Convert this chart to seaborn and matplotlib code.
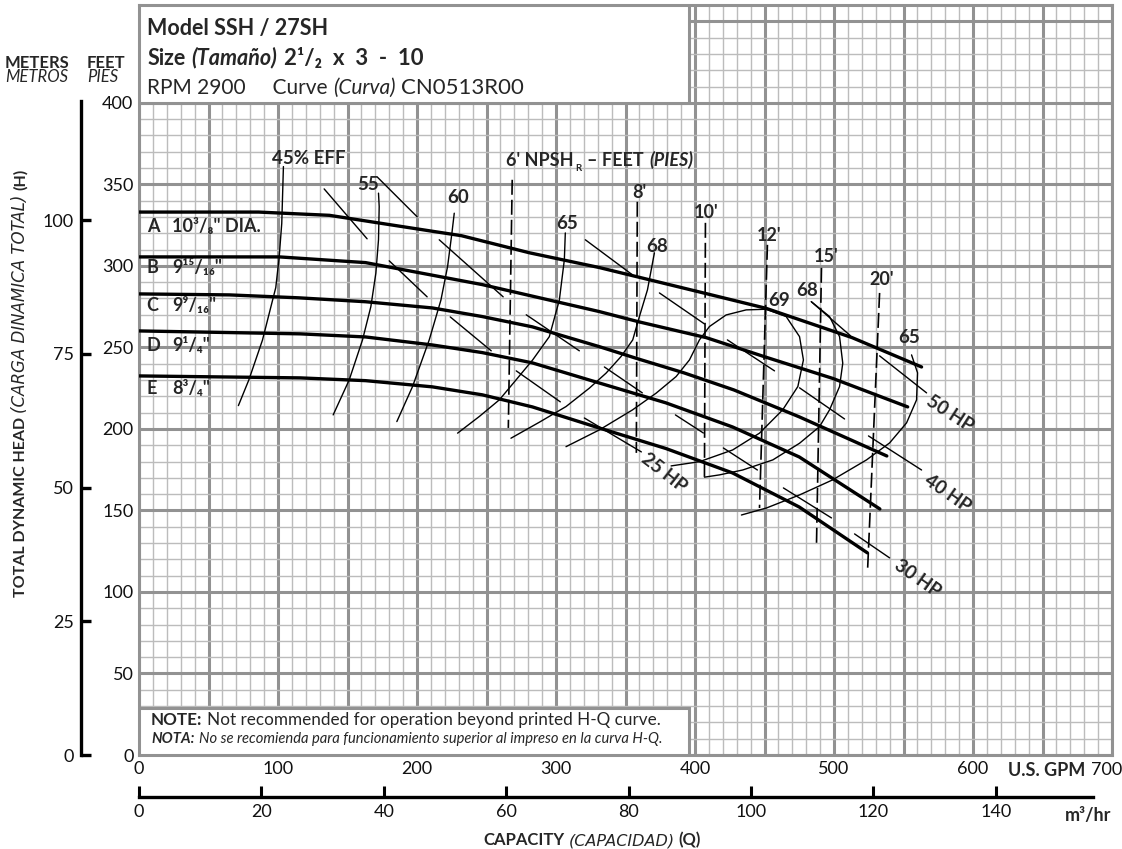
import numpy as np
import pandas as pd
import matplotlib
matplotlib.use('Agg')
import matplotlib.pyplot as plt
import seaborn as sns
from matplotlib.patches import Rectangle

sns.set_theme(style="white")
plt.rcParams['font.family'] = ['Lato', 'DejaVu Sans']

# ---- impeller H-Q curves (U.S. GPM / feet) ----
imp_letters = ['A', 'B', 'C', 'D', 'E']
imp_sizes = ['10³/₈" DIA.', '9¹⁵/₁₆"', '9⁹/₁₆"', '9¹/₄"', '8³/₄"']
imp_label_ft = [324, 298.8, 275.5, 251, 224.5]

a_gpm = [0, 86, 137, 209, 232, 281, 331, 408, 451, 513, 563]
a_ft = [333, 333, 331, 321.5, 318.5, 308, 299, 283, 274, 256, 238]
b_gpm = [0, 101, 163, 247, 331, 360, 408, 451, 499, 553]
b_ft = [305.5, 305.5, 302, 288.5, 272, 265.6, 256, 244, 231, 213.5]
c_gpm = [0, 65, 115, 163, 211, 247, 283, 331, 360, 392, 428, 475, 538]
c_ft = [282.8, 282.2, 280.4, 278, 274.2, 268.9, 262.6, 250.5, 242.7, 234.4, 223.9, 207.4, 183.4]
d_gpm = [0, 116, 163, 211, 247, 283, 331, 379, 427, 475, 533]
d_ft = [260.1, 258.3, 256.4, 251.5, 246.8, 240.5, 228.2, 216, 201.2, 182.8, 150.9]
e_gpm = [0, 116, 163, 211, 247, 283, 331, 379, 427, 475, 524]
e_ft = [232.5, 231.3, 229.6, 225.8, 220.9, 213.5, 200.6, 188, 173, 152.1, 124]

# ---- efficiency curves ----
eff45_gpm = [71.5, 79, 88.8, 94.8, 98.4, 100.8, 102.7, 103.9]
eff45_ft = [214.3, 230, 254.4, 274.6, 286.7, 305, 326, 360.9]
eff55_gpm = [139.7, 151.2, 160.8, 166.8, 170.4, 172.3, 172.8, 172.3]
eff55_ft = [208.6, 230, 254.6, 275, 295.5, 316, 336.4, 344.6]
eff60_gpm = [185.5, 196.8, 208.8, 217.2, 222, 225.1, 226.8]
eff60_ft = [204.5, 226, 254.6, 279, 299.6, 320, 332.3]
eff65_gpm = [229.2, 244.8, 259.2, 271.2, 283.2, 295.2, 302.4, 306, 306.7]
eff65_ft = [197.4, 207.6, 217.8, 230, 242.3, 256.6, 279, 303.7, 320.2]
eff68_gpm = [267.6, 288, 307.2, 324, 336, 346.8, 355.2, 360, 365.8, 370.8]
eff68_ft = [194.3, 204.1, 213.7, 225, 234.2, 244.4, 254.6, 268.9, 285.3, 308]
eff69_gpm = [307.2, 331.2, 355.1, 372, 386.4, 396, 403.2, 410.4, 422.4, 436.8,
             451.2, 465.6, 475.2, 478, 474, 463.1, 446.4, 427.1, 403.2, 382.8]
eff69_ft = [189.1, 199.4, 211.7, 221.9, 232.1, 242.3, 254.6, 262.8, 269.9, 273,
            273.4, 268.9, 256.6, 242.3, 226, 211.7, 197.4, 187.1, 179.9, 177.3]
eff68b_gpm = [483.6, 496.8, 504, 506.3, 504, 496.8, 489.6, 475.2, 456, 434.3, 417.6, 406.8]
eff68b_ft = [278.1, 268.9, 256.6, 240.3, 226, 211.7, 201.4, 191.2, 181, 174.8, 171.8, 170.4]
eff65b_gpm = [555.8, 560.1, 559.4, 552.2, 540, 523.4, 498.9, 475.2, 451.4, 433.4]
eff65b_ft = [245.4, 234.4, 217.8, 203.7, 191.4, 181, 168.7, 159.5, 151.5, 147.2]

eff_labels = ['45% EFF', '55', '60', '65', '68', '69', '68', '65']
eff_label_gpm = [122.4, 165, 229.7, 308, 373, 460.8, 480.5, 554]
eff_label_ft = [366, 349.7, 341.7, 325.8, 312, 279, 285, 255.8]

# ---- horsepower lines (dash segments, start/end pairs) ----
hp25_gpm = [133.2, 164.1, 180, 207.3, 223.9, 253.4, 271.4, 303.1, 320.4, 361.4]
hp25_ft = [347.2, 316.6, 303.1, 281, 268.7, 247.9, 235.6, 216.6, 206.7, 185.9]
hp30_gpm = [171.3, 200.1, 216, 262, 278.6, 316.8, 334.8, 362.1, 385.9, 406, 420.4, 444.9, 463.6, 498.2, 514.8, 540]
hp30_ft = [354.6, 330.1, 316, 281, 270, 247.9, 238, 222.1, 208.6, 197.5, 188.3, 174.8, 163.8, 145.4, 135.6, 120.9]
hp40_gpm = [321.1, 355, 374.4, 406.8, 423.3, 457.2, 475.2, 507.6, 524.8, 563]
hp40_ft = [316, 294.5, 283.4, 264.4, 254.6, 235.6, 225.2, 206.1, 195.7, 174.8]
hp50_gpm = [483.8, 511.9, 532.8, 566.6]
hp50_ft = [277.9, 257.1, 244.8, 222.1]

hp_labels = ['25 HP', '30 HP', '40 HP', '50 HP']
hp_label_gpm = [378, 560, 582, 583.5]
hp_label_ft = [173, 108.5, 160.5, 209.5]
hp_label_rot = [-38, -35, -35, -33]

# ---- NPSHr lines ----
npsh_labels = ["8'", "10'", "12'", "15'", "20'"]
npsh_top_gpm = [268.5, 358.5, 407.5, 452.1, 491, 532.8]
npsh_top_ft = [352.8, 339.3, 326.4, 312.9, 298.8, 283.4]
npsh_bot_gpm = [265.7, 357.8, 406.8, 446.4, 487.4, 524.1]
npsh_bot_ft = [200.6, 185.3, 170.6, 151.5, 128.8, 112.3]
npsh_label_gpm = [360, 408, 453.6, 494, 534]
npsh_label_ft = [344.8, 332.5, 318.4, 305.5, 291.4]

ft_ticks = list(range(0, 401, 50))
m_ticks = [0, 25, 50, 75, 100]
m3_ticks = list(range(0, 141, 20))

W, H = 1122, 849
fig = plt.figure(figsize=(W / 100, H / 100), dpi=100)
ax = fig.add_axes([139 / W, 1 - 755 / H, 973 / W, 750 / H])


def fx(px):
    return px / W


def fy(py):
    return 1 - py / H


# grid
ax.set_xlim(0, 700)
ax.set_ylim(0, 460)
ax.set_xticks(np.arange(0, 701, 50))
ax.set_xticklabels([str(v) if (v % 100 == 0 and v < 700) else '' for v in np.arange(0, 701, 50)])
ax.set_yticks(np.arange(0, 451, 50))
ax.set_yticklabels([str(v) if v in ft_ticks else '' for v in np.arange(0, 451, 50)])
ax.set_xticks(np.arange(0, 701, 10), minor=True)
ax.set_yticks(np.arange(0, 461, 10), minor=True)
ax.grid(which='major', color='#929292', lw=2.2)
ax.grid(which='minor', color='#bcbcbc', lw=1.0)
ax.set_axisbelow(True)
ax.tick_params(which='both', length=0, labelsize=13, colors='#111111')
ax.tick_params(axis='x', pad=4)
ax.tick_params(axis='y', pad=4)
for s in ax.spines.values():
    s.set_color('#929292')
    s.set_linewidth(2.2)

# impeller curves
for g, f in zip([a_gpm, b_gpm, c_gpm, d_gpm, e_gpm], [a_ft, b_ft, c_ft, d_ft, e_ft]):
    sns.lineplot(x=g, y=f, ax=ax, color='black', lw=2.4, sort=False, estimator=None, zorder=4)

# efficiency curves
effs = [(eff45_gpm, eff45_ft), (eff55_gpm, eff55_ft), (eff60_gpm, eff60_ft),
        (eff65_gpm, eff65_ft), (eff68_gpm, eff68_ft), (eff69_gpm, eff69_ft),
        (eff68b_gpm, eff68b_ft), (eff65b_gpm, eff65b_ft)]
for g, f in effs:
    sns.lineplot(x=g, y=f, ax=ax, color='black', lw=1.0, sort=False, estimator=None, zorder=4)

# horsepower dashes
for g, f in [(hp25_gpm, hp25_ft), (hp30_gpm, hp30_ft), (hp40_gpm, hp40_ft), (hp50_gpm, hp50_ft)]:
    for i in range(0, len(g), 2):
        ax.plot(g[i:i + 2], f[i:i + 2], color='black', lw=1.0, zorder=4)

# NPSH dashed lines
for i in range(len(npsh_top_gpm)):
    ax.plot([npsh_top_gpm[i], npsh_bot_gpm[i]], [npsh_top_ft[i], npsh_bot_ft[i]],
            color='black', lw=1.2, ls=(0, (9, 3)), zorder=4)

# labels on the chart
for k, (l, s) in enumerate(zip(imp_letters, imp_sizes)):
    ax.text(5.5, imp_label_ft[k], l, fontsize=13, weight='bold', va='center', zorder=5)
    ax.text(24, imp_label_ft[k], s, fontsize=13, weight='bold', va='center', zorder=5)
for t, g, f in zip(eff_labels, eff_label_gpm, eff_label_ft):
    ax.text(g, f, t, fontsize=13.5, weight='bold', ha='center', va='center', zorder=5)
for t, g, f, r in zip(hp_labels, hp_label_gpm, hp_label_ft, hp_label_rot):
    ax.text(g, f, t, fontsize=13.5, weight='bold', ha='center', va='center', rotation=r, zorder=5)
for t, g, f in zip(npsh_labels, npsh_label_gpm, npsh_label_ft):
    ax.text(g, f, t, fontsize=13, weight='bold', ha='center', va='center', zorder=5)


def chain(prev, text, y, ycoords, dx=3.0, **kw):
    return ax.annotate(text, xy=(1, y), xycoords=(prev, ycoords), xytext=(dx, 0),
                       textcoords='offset points', ha='left', va='baseline',
                       annotation_clip=False, zorder=6, **kw)


n1 = ax.text(264, 361, "6' NPSH", fontsize=13, weight='bold', va='baseline', zorder=5)
n2 = chain(n1, 'R', 358, 'data', dx=1, fontsize=7, weight='bold')
n3 = chain(n2, '– FEET', 361, 'data', dx=4, fontsize=13, weight='bold')
chain(n3, '(PIES)', 361, 'data', dx=4, fontsize=13, weight='bold', style='italic')

# title box
ax.add_patch(Rectangle((0, 400), 396, 60, facecolor='white', edgecolor='#929292', lw=2.2, zorder=3))
ax.text(5.8, 441.5, 'Model SSH / 27SH', fontsize=15.5, weight='bold', va='baseline', zorder=6)
s1 = ax.text(5.8, 423.5, 'Size', fontsize=15.5, weight='bold', va='baseline', zorder=6)
s2 = chain(s1, '(Tamaño)', 423.5, 'data', dx=4, fontsize=15.5, weight='bold', style='italic')
chain(s2, '2¹/₂  x  3  -  10', 423.5, 'data', dx=5, fontsize=16, weight='bold')
r1 = ax.text(5.8, 405.5, 'RPM 2900     Curve', fontsize=15, va='baseline', zorder=6)
r2 = chain(r1, '(Curva)', 405.5, 'data', dx=4, fontsize=15, style='italic')
chain(r2, 'CN0513R00', 405.5, 'data', dx=4, fontsize=16)

# note box
ax.add_patch(Rectangle((0, 0), 396, 29, facecolor='white', edgecolor='#929292', lw=2.2, zorder=3))
o1 = ax.text(8.6, 18.2, 'NOTE:', fontsize=12.3, weight='bold', va='baseline', zorder=6)
chain(o1, 'Not recommended for operation beyond printed H-Q curve.', 18.2, 'data', dx=3.5, fontsize=12.3)
o2 = ax.text(8.6, 7.6, 'NOTA:', fontsize=10.6, weight='bold', style='italic', va='baseline', zorder=6)
chain(o2, 'No se recomienda para funcionamiento superior al impreso en la curva H-Q.', 7.6, 'data',
      dx=3, fontsize=10.6, style='italic')

# meters axis
sec = ax.secondary_yaxis(-58 / 973, functions=(lambda f: f * 0.3048, lambda m: m / 0.3048))
sec.set_yticks(m_ticks)
sec.spines['left'].set_bounds(0, 401 * 0.3048)
sec.spines['left'].set_linewidth(2.4)
sec.spines['left'].set_color('black')
sec.tick_params(direction='in', length=7, width=2.4, color='black', labelsize=13, pad=5,
                labelcolor='#111111')

# m3/hr axis
secx = ax.secondary_xaxis(-42 / 750, functions=(lambda g: g * 0.22712, lambda m: m / 0.22712))
secx.set_xticks(m3_ticks)
secx.spines['bottom'].set_bounds(0, 686 * 0.22712)
secx.spines['bottom'].set_linewidth(2.4)
secx.spines['bottom'].set_color('black')
secx.tick_params(direction='in', length=8, width=2.2, color='black', labelsize=13, pad=5,
                 labelcolor='#111111')

# outside texts
fig.text(fx(5), fy(68), 'METERS', fontsize=12, weight='bold', va='baseline')
fig.text(fx(87), fy(68), 'FEET', fontsize=12, weight='bold', va='baseline')
fig.text(fx(5), fy(82), 'METROS', fontsize=12, style='italic', va='baseline')
fig.text(fx(87), fy(82), 'PIES', fontsize=12, style='italic', va='baseline')
fig.text(fx(1047), fy(770), 'U.S. GPM', fontsize=13, weight='bold', ha='center', va='center')
fig.text(fx(1107), fy(770), '700', fontsize=13, ha='center', va='center', color='#111111')
fig.text(fx(1088), fy(815), 'm³/hr', fontsize=13, weight='bold', ha='center', va='center')

c1 = fig.text(fx(483), fy(845), 'CAPACITY', fontsize=12, weight='bold', va='baseline')
c2 = chain(c1, '(CAPACIDAD)', fy(845), 'figure fraction', dx=3, fontsize=11.5, style='italic',
           family='DejaVu Sans')
chain(c2, '(Q)', fy(845), 'figure fraction', dx=3, fontsize=12, weight='bold')

y1 = fig.text(fx(25), fy(597), 'TOTAL DYNAMIC HEAD', fontsize=11.5, weight='bold', rotation=90,
              rotation_mode='anchor', ha='left', va='baseline')
y2 = ax.annotate('(CARGA DINAMICA TOTAL)', xy=(fx(25), 1), xycoords=('figure fraction', y1),
                 xytext=(0, 3), textcoords='offset points', rotation=90, rotation_mode='anchor',
                 ha='left', va='baseline', fontsize=12, style='italic', family='DejaVu Sans',
                 annotation_clip=False)
ax.annotate('(H)', xy=(fx(25), 1), xycoords=('figure fraction', y2),
            xytext=(0, 3), textcoords='offset points', rotation=90, rotation_mode='anchor',
            ha='left', va='baseline', fontsize=11.5, weight='bold', annotation_clip=False)

fig.savefig('out.png', dpi=100)
